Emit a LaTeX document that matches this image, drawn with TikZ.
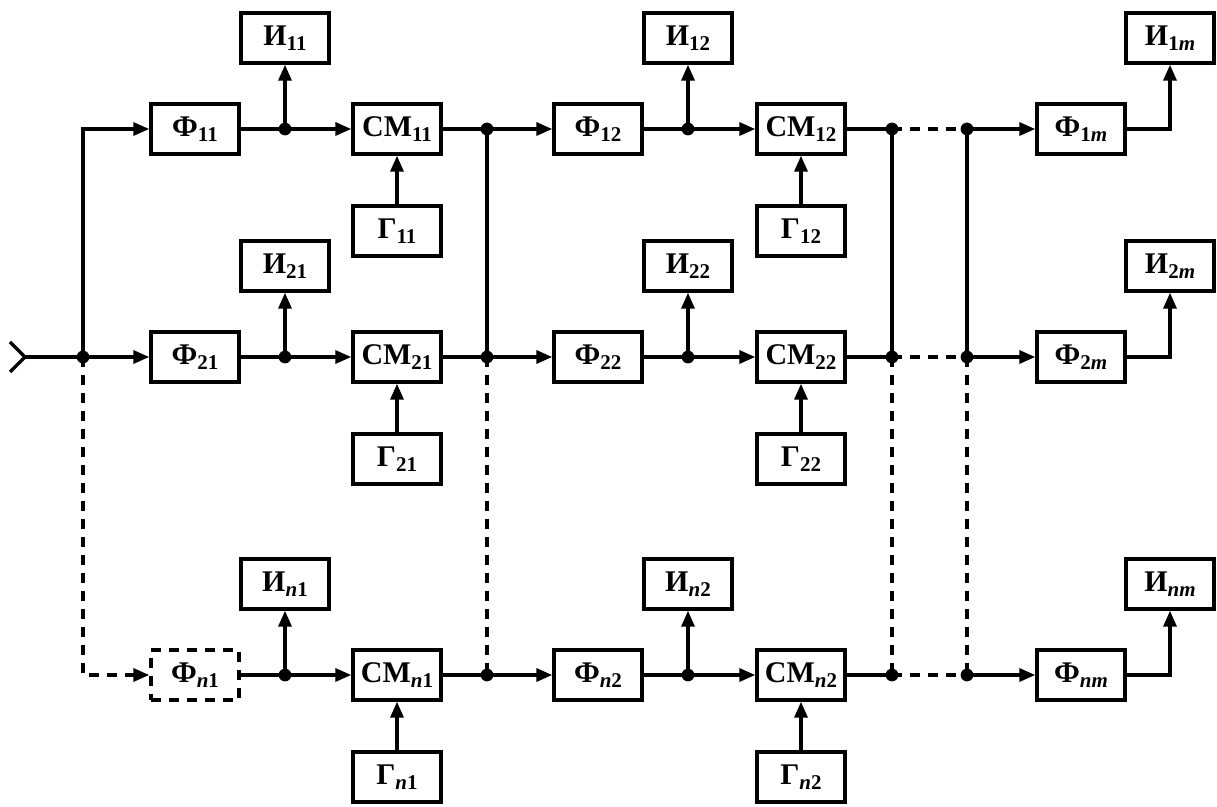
\documentclass[tikz,border=0pt]{standalone}
\usepackage{fontspec}
\setmainfont{Liberation Serif}
\usetikzlibrary{arrows.meta,positioning}
\newcommand{\idx}[1]{\raisebox{-0.4ex}{\fontsize{10.5}{10.5}\selectfont #1}}

\begin{document}
\begin{tikzpicture}[
  x=0.5pt, y=-0.5pt,
  line width=1.7pt,
  block/.style={draw, minimum width=44pt, minimum height=25pt, inner sep=0pt, font=\fontsize{15}{15}\selectfont\bfseries},
  dashline/.style={dash pattern=on 5pt off 4pt},
  arrow/.style={-{Triangle[length=8pt,width=6.5pt]}}
]
  \useasboundingbox (0,0) rectangle (1217,807);

  % row 1
  \node[block] (F11) at (195,129) {Ф\idx{11}};
  \node[block] (I11) at (285,38) {И\idx{11}};
  \node[block] (S11) at (397,129) {СМ\idx{11}};
  \node[block] (G11) at (397,231) {Г\idx{11}};
  \node[block] (F12) at (598,129) {Ф\idx{12}};
  \node[block] (I12) at (688,38) {И\idx{12}};
  \node[block] (S12) at (801,129) {СМ\idx{12}};
  \node[block] (G12) at (801,231) {Г\idx{12}};
  \node[block] (F1m) at (1081,129) {Ф\idx{1\textit{m}}};
  \node[block] (I1m) at (1170,38) {И\idx{1\textit{m}}};

  % row 2
  \node[block] (F21) at (195,357) {Ф\idx{21}};
  \node[block] (I21) at (285,266) {И\idx{21}};
  \node[block] (S21) at (397,357) {СМ\idx{21}};
  \node[block] (G21) at (397,459) {Г\idx{21}};
  \node[block] (F22) at (598,357) {Ф\idx{22}};
  \node[block] (I22) at (688,266) {И\idx{22}};
  \node[block] (S22) at (801,357) {СМ\idx{22}};
  \node[block] (G22) at (801,459) {Г\idx{22}};
  \node[block] (F2m) at (1081,357) {Ф\idx{2\textit{m}}};
  \node[block] (I2m) at (1170,266) {И\idx{2\textit{m}}};

  % row n
  \node[block, dashline] (Fn1) at (195,675) {Ф\idx{\textit{n}1}};
  \node[block] (In1) at (285,584) {И\idx{\textit{n}1}};
  \node[block] (Sn1) at (397,675) {СМ\idx{\textit{n}1}};
  \node[block] (Gn1) at (397,777) {Г\idx{\textit{n}1}};
  \node[block] (Fn2) at (598,675) {Ф\idx{\textit{n}2}};
  \node[block] (In2) at (688,584) {И\idx{\textit{n}2}};
  \node[block] (Sn2) at (801,675) {СМ\idx{\textit{n}2}};
  \node[block] (Gn2) at (801,777) {Г\idx{\textit{n}2}};
  \node[block] (Fnm) at (1081,675) {Ф\idx{\textit{nm}}};
  \node[block] (Inm) at (1170,584) {И\idx{\textit{nm}}};

  % branch points
  \coordinate (in) at (25,357);
  \coordinate (s0) at (83,357);
  \coordinate (a1) at (285,129);
  \coordinate (b1) at (487,129);
  \coordinate (c1) at (688,129);
  \coordinate (d1) at (892,129);
  \coordinate (e1) at (967,129);
  \coordinate (a2) at (285,357);
  \coordinate (b2) at (487,357);
  \coordinate (c2) at (688,357);
  \coordinate (d2) at (892,357);
  \coordinate (e2) at (967,357);
  \coordinate (an) at (285,675);
  \coordinate (bn) at (487,675);
  \coordinate (cn) at (688,675);
  \coordinate (dn) at (892,675);
  \coordinate (en) at (967,675);

  % input
  \draw ([shift={(-15,-15)}]in) -- (in) -- ([shift={(-15,15)}]in);
  \draw (in) -- (s0);
  \draw[arrow] (s0) |- (F11);
  \draw[arrow] (s0) -- (F21);
  \draw[arrow, dashline] (s0) |- (Fn1);

  % chains
  \foreach \r in {1,2,n} {
    \draw[arrow] (F\r1) -- (a\r) -- (S\r1);
    \draw[arrow] (a\r) -- (I\r1);
    \draw[arrow] (G\r1) -- (S\r1);
    \draw[arrow] (S\r1) -- (b\r) -- (F\r2);
    \draw[arrow] (F\r2) -- (c\r) -- (S\r2);
    \draw[arrow] (c\r) -- (I\r2);
    \draw[arrow] (G\r2) -- (S\r2);
    \draw (S\r2) -- (d\r);
    \draw[dashline] (d\r) -- (e\r);
    \draw[arrow] (e\r) -- (F\r m);
    \draw[arrow] (F\r m.east) -| (I\r m);
  }

  % cross links
  \draw (b1) -- (b2);
  \draw (d1) -- (d2);
  \draw (e1) -- (e2);
  \draw[dashline] (b2) -- (bn);
  \draw[dashline] (d2) -- (dn);
  \draw[dashline] (e2) -- (en);

  \foreach \p in {s0,a1,b1,c1,d1,e1,a2,b2,c2,d2,e2,an,bn,cn,dn,en}
    \fill (\p) circle (3.2pt);
\end{tikzpicture}
\end{document}
